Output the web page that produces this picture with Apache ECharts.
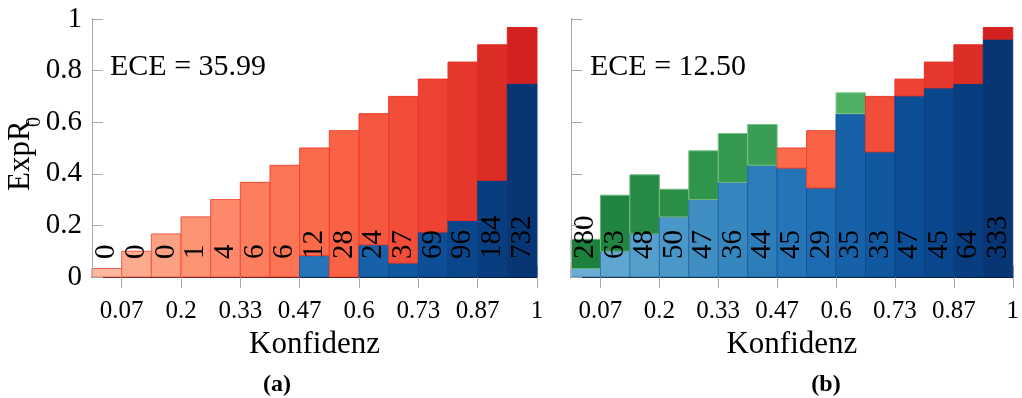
<!DOCTYPE html>
<html>
<head>
<meta charset="utf-8">
<script src="https://cdn.jsdelivr.net/npm/echarts@6/dist/echarts.min.js"></script>
<style>
  html, body { margin: 0; padding: 0; background: #fff; }
  #chart { width: 1022px; height: 398px; }
</style>
</head>
<body>
<div id="chart"></div>
<script>
// Reliability diagrams: 15 confidence bins, accuracy vs. mean confidence per bin
const binEdges = [0, 0.0667, 0.1333, 0.2, 0.2667, 0.3333, 0.4, 0.4667, 0.5333, 0.6, 0.6667, 0.7333, 0.8, 0.8667, 0.9333, 1];
const binConfidence = [0.033, 0.1, 0.167, 0.233, 0.3, 0.367, 0.433, 0.5, 0.567, 0.633, 0.7, 0.767, 0.833, 0.9, 0.967];

// (a) uncalibrated
const countsA = [0, 0, 0, 1, 4, 6, 6, 12, 28, 24, 37, 69, 96, 184, 732];
const accuracyA = [0, 0, 0, 0, 0, 0, 0, 0.083, 0, 0.125, 0.054, 0.174, 0.219, 0.375, 0.751];
const eceA = '35.99';

// (b) calibrated
const countsB = [280, 63, 48, 50, 47, 36, 44, 45, 29, 35, 33, 47, 45, 64, 333];
const accuracyB = [0.146, 0.317, 0.396, 0.34, 0.489, 0.556, 0.591, 0.422, 0.345, 0.714, 0.485, 0.702, 0.733, 0.75, 0.922];
const eceB = '12.50';

const tickValues = [0.0667, 0.2, 0.3333, 0.4667, 0.6, 0.7333, 0.8667, 1];
const tickLabels = ['0.07', '0.2', '0.33', '0.47', '0.6', '0.73', '0.87', '1'];
const yTicks = [0, 0.2, 0.4, 0.6, 0.8, 1];

// per-bin shades: blue = accuracy part, red = overconfidence gap, green = underconfidence gap
const blues = ['#6aaed6','#5fa6d1','#559fcd','#4a97c9','#3f8fc4','#3686c0','#2d7dbb','#2574b7','#1d6bb0','#1661a8','#1058a0','#0c4f97','#0a468b','#083e80','#083574'];
const reds = ['#fcb9a0','#fcab8f','#fca083','#fc9474','#fc8a6a','#fb7f5f','#fb7555','#fb6b4b','#f96245','#f6573f','#f24d38','#ee4232','#e6372c','#dc2c26','#d32020'];
const greens = ['#1d813e','#208540','#268a45','#2b8f48','#2f944c','#359950','#3a9d55','#40a259','#46a85d','#4daf62','#55b468','#5fba6f','#69c077','#74c47f','#7fc988'];

const FONT = '"Liberation Serif", "DejaVu Serif", serif';

function mix(c1, c2, t) {
  const a = parseInt(c1.slice(1), 16), b = parseInt(c2.slice(1), 16);
  const ch = s => Math.round(((a >> s) & 255) * (1 - t) + ((b >> s) & 255) * t);
  return 'rgb(' + ch(16) + ',' + ch(8) + ',' + ch(0) + ')';
}

function binData(counts, acc) {
  return counts.map((n, i) => [binEdges[i], binEdges[i + 1], binConfidence[i], acc[i], n, i]);
}

function renderBin(params, api) {
  const lo = api.value(0), hi = api.value(1), conf = api.value(2), acc = api.value(3);
  const n = api.value(4), i = api.value(5);
  const base = Math.min(conf, acc), top = Math.max(conf, acc);
  const p0 = api.coord([lo, 0]);
  const p1 = api.coord([hi, base]);
  const p2 = api.coord([hi, top]);
  const children = [];
  if (base > 0) {
    children.push({
      type: 'rect',
      shape: { x: p0[0], y: p1[1], width: p1[0] - p0[0], height: p0[1] - p1[1] },
      style: { fill: blues[i], stroke: mix(blues[i], '#0a3c7c', 0.45), lineWidth: 1 }
    });
  }
  const over = conf > acc;
  const gapFill = over ? reds[i] : greens[i];
  const gapStroke = over ? mix(reds[i], '#e8281e', 0.6) : mix(greens[i], '#b8e4b8', 0.5);
  children.push({
    type: 'rect',
    shape: { x: p0[0], y: p2[1], width: p2[0] - p0[0], height: p1[1] - p2[1] },
    style: { fill: gapFill, stroke: gapStroke, lineWidth: 1 }
  });
  children.push({
    type: 'text',
    z2: 20,
    x: (p0[0] + p1[0]) / 2,
    y: p0[1] - 18,
    rotation: Math.PI / 2,
    style: { text: String(n), align: 'left', verticalAlign: 'middle', font: '29px ' + FONT, fill: '#000' }
  });
  return { type: 'group', children: children };
}

const tickGray = '#a8a8a8';

function xAxes(gridIndex) {
  const common = {
    gridIndex: gridIndex, type: 'value', min: 0, max: 1,
    splitLine: { show: false }
  };
  return [
    Object.assign({}, common, {
      position: 'bottom',
      axisLine: { show: true, lineStyle: { color: tickGray, width: 1 } },
      axisTick: { show: true, inside: false, length: 11, customValues: tickValues, lineStyle: { color: tickGray, width: 1 } },
      axisLabel: {
        show: true, customValues: tickValues, margin: 22,
        formatter: v => tickLabels[tickValues.indexOf(v)],
        fontFamily: FONT, fontSize: 25, color: '#000'
      },
      name: 'Konfidenz', nameLocation: 'middle', nameGap: 37,
      nameTextStyle: { fontFamily: FONT, fontSize: 31, color: '#000' }
    }),
    Object.assign({}, common, {
      position: 'top',
      axisLine: { show: true, lineStyle: { color: '#000', width: 1 } },
      axisTick: { show: true, inside: false, length: 11, customValues: tickValues, lineStyle: { color: tickGray, width: 1 } },
      axisLabel: { show: false }
    })
  ];
}

function yAxes(gridIndex, showLabels) {
  const common = {
    gridIndex: gridIndex, type: 'value', min: 0, max: 1, interval: 0.2,
    splitLine: { show: false }, z: 3
  };
  return [
    Object.assign({}, common, {
      position: 'left',
      axisLine: { show: true, lineStyle: { color: '#000', width: 1 } },
      axisTick: { show: true, inside: true, length: 11, customValues: yTicks, lineStyle: { color: tickGray, width: 1 } },
      axisLabel: {
        show: showLabels, margin: 10, customValues: yTicks,
        formatter: v => String(Math.round(v * 10) / 10),
        fontFamily: FONT, fontSize: 29, color: '#000'
      }
    }),
    Object.assign({}, common, {
      position: 'right',
      axisLine: { show: true, lineStyle: { color: tickGray, width: 1 } },
      axisTick: { show: false },
      axisLabel: { show: false }
    })
  ];
}

const chart = echarts.init(document.getElementById('chart'), null, { renderer: 'canvas' });

chart.setOption({
  animation: false,
  backgroundColor: '#fff',
  grid: [
    { left: 92, top: 19, width: 445, height: 258 },
    { left: 571, top: 19, width: 446, height: 258 }
  ],
  xAxis: xAxes(0).concat(xAxes(1)),
  yAxis: yAxes(0, true).concat(yAxes(1, false)),
  series: [
    { type: 'custom', xAxisIndex: 0, yAxisIndex: 0, renderItem: renderBin, data: binData(countsA, accuracyA), z: 2 },
    { type: 'custom', xAxisIndex: 2, yAxisIndex: 2, renderItem: renderBin, data: binData(countsB, accuracyB), z: 2 }
  ],
  graphic: [
    { type: 'text', left: 110, top: 52, style: { text: 'ECE = ' + eceA, font: '30px ' + FONT, fill: '#000' } },
    { type: 'text', left: 590, top: 52, style: { text: 'ECE = ' + eceB, font: '30px ' + FONT, fill: '#000' } },
    { type: 'text', x: 21, y: 191, rotation: Math.PI / 2,
      style: { text: 'ExpR', font: '31px ' + FONT, fill: '#000', align: 'left', verticalAlign: 'middle' } },
    { type: 'text', x: 35, y: 127, rotation: Math.PI / 2,
      style: { text: '0', font: '20px ' + FONT, fill: '#000', align: 'left', verticalAlign: 'middle' } },
    { type: 'text', x: 277, y: 385,
      style: { text: '(a)', font: 'bold 24px ' + FONT, fill: '#000', align: 'center', verticalAlign: 'middle' } },
    { type: 'text', x: 826, y: 385,
      style: { text: '(b)', font: 'bold 24px ' + FONT, fill: '#000', align: 'center', verticalAlign: 'middle' } }
  ]
});
</script>
</body>
</html>
